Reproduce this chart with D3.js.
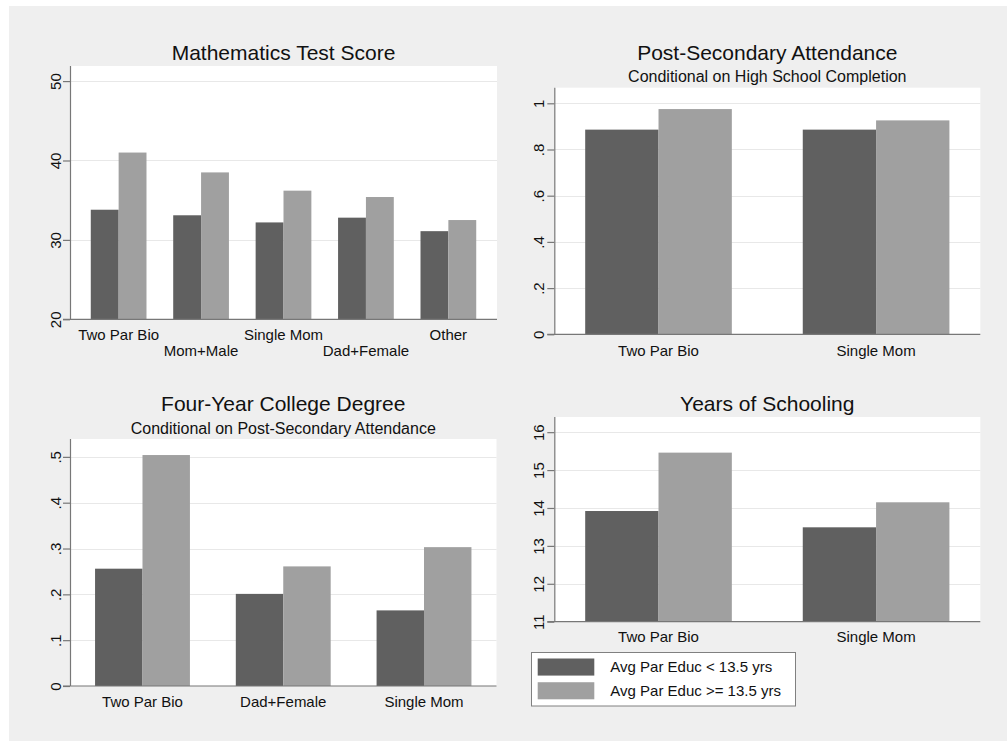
<!DOCTYPE html>
<html>
<head>
<meta charset="utf-8">
<script src="https://cdn.jsdelivr.net/npm/d3@7"></script>
<style>
  html, body { margin: 0; padding: 0; background: #ffffff; }
  svg { display: block; font-family: "Liberation Sans", Arial, Helvetica, sans-serif; }
</style>
</head>
<body>
<svg id="chart" width="1007" height="741"></svg>
<script>
// ---- Data ----
const seriesNames = ["Avg Par Educ < 13.5 yrs", "Avg Par Educ >= 13.5 yrs"];

const mathCats = ["Two Par Bio", "Mom+Male", "Single Mom", "Dad+Female", "Other"];
const mathLow  = [33.8, 33.1, 32.2, 32.8, 31.1];
const mathHigh = [41.0, 38.5, 36.2, 35.4, 32.5];
const mathTicks = [20, 30, 40, 50];

const psCats = ["Two Par Bio", "Single Mom"];
const psLow  = [0.886, 0.886];
const psHigh = [0.975, 0.926];
const psTicks = [0, 0.2, 0.4, 0.6, 0.8, 1];

const colCats = ["Two Par Bio", "Dad+Female", "Single Mom"];
const colLow  = [0.256, 0.201, 0.165];
const colHigh = [0.504, 0.261, 0.303];
const colTicks = [0, 0.1, 0.2, 0.3, 0.4, 0.5];

const yrsCats = ["Two Par Bio", "Single Mom"];
const yrsLow  = [13.92, 13.49];
const yrsHigh = [15.46, 14.15];
const yrsTicks = [11, 12, 13, 14, 15, 16];

// ---- Styles ----
const colors = ["#606060", "#a0a0a0"];
const bgColor = "#efefef";
const axisColor = "#777777";
const gridColor = "#e8e8e8";
const textColor = "#111111";

const svg = d3.select("#chart");
svg.append("rect").attr("x", 9).attr("y", 6).attr("width", 998).attr("height", 735).attr("fill", bgColor);

function stataFmt(v) {
  let s = d3.format("~g")(+v.toFixed(4));
  if (s.startsWith("0.")) s = s.slice(1);
  return s;
}

const panels = [
  { title: "Mathematics Test Score", subtitle: null, cats: mathCats, low: mathLow, high: mathHigh, ticks: mathTicks,
    x0: 70, x1: 497, y0: 66, y1: 319.3, yMin: 20, yMax: 51.9, pi: 0.324, po: 0.252,
    titleY: 59.5, subY: null, labelY: [340, 356], labelX: 60.7 },
  { title: "Post-Secondary Attendance", subtitle: "Conditional on High School Completion", cats: psCats, low: psLow, high: psHigh, ticks: psTicks,
    x0: 554.3, x1: 980.3, y0: 87.7, y1: 334.3, yMin: 0, yMax: 1.0675, pi: 0.326, po: 0.142,
    titleY: 59.5, subY: 82.3, labelY: [355.5], labelX: 543.5 },
  { title: "Four-Year College Degree", subtitle: "Conditional on Post-Secondary Attendance", cats: colCats, low: colLow, high: colHigh, ticks: colTicks,
    x0: 70, x1: 496.5, y0: 439, y1: 686, yMin: 0, yMax: 0.539, pi: 0.326, po: 0.178,
    titleY: 411, subY: 433.5, labelY: [707], labelX: 60.7 },
  { title: "Years of Schooling", subtitle: null, cats: yrsCats, low: yrsLow, high: yrsHigh, ticks: yrsTicks,
    x0: 554.3, x1: 980.3, y0: 417, y1: 621.7, yMin: 11, yMax: 16.4, pi: 0.326, po: 0.142,
    titleY: 411, subY: null, labelY: [642], labelX: 543.5 }
];

panels.forEach(p => {
  const g = svg.append("g");
  const x = d3.scaleBand().domain(p.cats).range([p.x0, p.x1]).paddingInner(p.pi).paddingOuter(p.po);
  const xs = d3.scaleBand().domain([0, 1]).range([0, x.bandwidth()]).padding(0);
  const y = d3.scaleLinear().domain([p.yMin, p.yMax]).range([p.y1, p.y0]);

  // plot region
  g.append("rect").attr("x", p.x0).attr("y", p.y0).attr("width", p.x1 - p.x0).attr("height", p.y1 - p.y0).attr("fill", "#ffffff");

  // gridlines
  g.selectAll(".grid").data(p.ticks.filter(t => t !== p.yMin)).enter().append("line")
    .attr("x1", p.x0).attr("x2", p.x1)
    .attr("y1", d => Math.round(y(d)) + 0.5).attr("y2", d => Math.round(y(d)) + 0.5)
    .attr("stroke", gridColor).attr("stroke-width", 1.2);

  // bars
  const data = p.cats.map((c, i) => ({ cat: c, vals: [p.low[i], p.high[i]] }));
  const grp = g.selectAll(".grp").data(data).enter().append("g")
    .attr("transform", d => `translate(${x(d.cat)},0)`);
  grp.selectAll("rect").data(d => d.vals.map((v, k) => ({ v, k }))).enter().append("rect")
    .attr("x", d => xs(d.k)).attr("width", xs.bandwidth())
    .attr("y", d => y(d.v)).attr("height", d => y(p.yMin) - y(d.v))
    .attr("fill", d => colors[d.k]);

  // y axis
  const yAxis = d3.axisLeft(y).tickValues(p.ticks).tickSize(7).tickFormat(stataFmt);
  const ya = g.append("g").attr("transform", `translate(${p.x0},0)`).call(yAxis);
  ya.select(".domain").remove();
  ya.selectAll(".tick line").attr("stroke", axisColor).attr("stroke-width", 1.2);
  ya.selectAll(".tick text").remove();
  ya.selectAll(".tick").append("text")
    .attr("transform", `translate(${p.labelX - p.x0},0) rotate(-90)`)
    .attr("text-anchor", "middle").attr("fill", textColor)
    .style("font-size", "15px").text(d => stataFmt(d));
  g.append("line").attr("x1", p.x0 + 0.5).attr("x2", p.x0 + 0.5).attr("y1", p.y0).attr("y2", p.y1)
    .attr("stroke", axisColor).attr("stroke-width", 1.2);

  // x axis
  g.append("line").attr("x1", p.x0 - 7).attr("x2", p.x1).attr("y1", p.y1).attr("y2", p.y1)
    .attr("stroke", axisColor).attr("stroke-width", 1.2);
  g.selectAll(".xlab").data(p.cats).enter().append("text")
    .attr("x", d => x(d) + x.bandwidth() / 2)
    .attr("y", (d, i) => p.labelY[i % p.labelY.length])
    .attr("text-anchor", "middle").attr("fill", textColor)
    .style("font-size", "15px").text(d => d);

  // titles
  const cx = (p.x0 + p.x1) / 2;
  g.append("text").attr("x", cx).attr("y", p.titleY).attr("text-anchor", "middle")
    .attr("fill", textColor).style("font-size", "21px").text(p.title);
  if (p.subtitle) {
    g.append("text").attr("x", cx).attr("y", p.subY).attr("text-anchor", "middle")
      .attr("fill", textColor).style("font-size", "16px").text(p.subtitle);
  }
});

// legend
const lg = svg.append("g");
lg.append("rect").attr("x", 531.5).attr("y", 652.5).attr("width", 264).attr("height", 53.5)
  .attr("fill", "#ffffff").attr("stroke", "#808080").attr("stroke-width", 1);
const legY = d3.scaleBand().domain([0, 1]).range([658.5, 699.3]).paddingInner(0.28);
lg.selectAll(".sw").data(seriesNames).enter().append("rect")
  .attr("x", 537.7).attr("width", 56.6)
  .attr("y", (d, i) => legY(i)).attr("height", legY.bandwidth())
  .attr("fill", (d, i) => colors[i]);
lg.selectAll(".lt").data(seriesNames).enter().append("text")
  .attr("x", 610.3).attr("y", (d, i) => legY(i) + legY.bandwidth() / 2 + 5.4)
  .attr("fill", textColor).style("font-size", "15px").text(d => d);
</script>
</body>
</html>
